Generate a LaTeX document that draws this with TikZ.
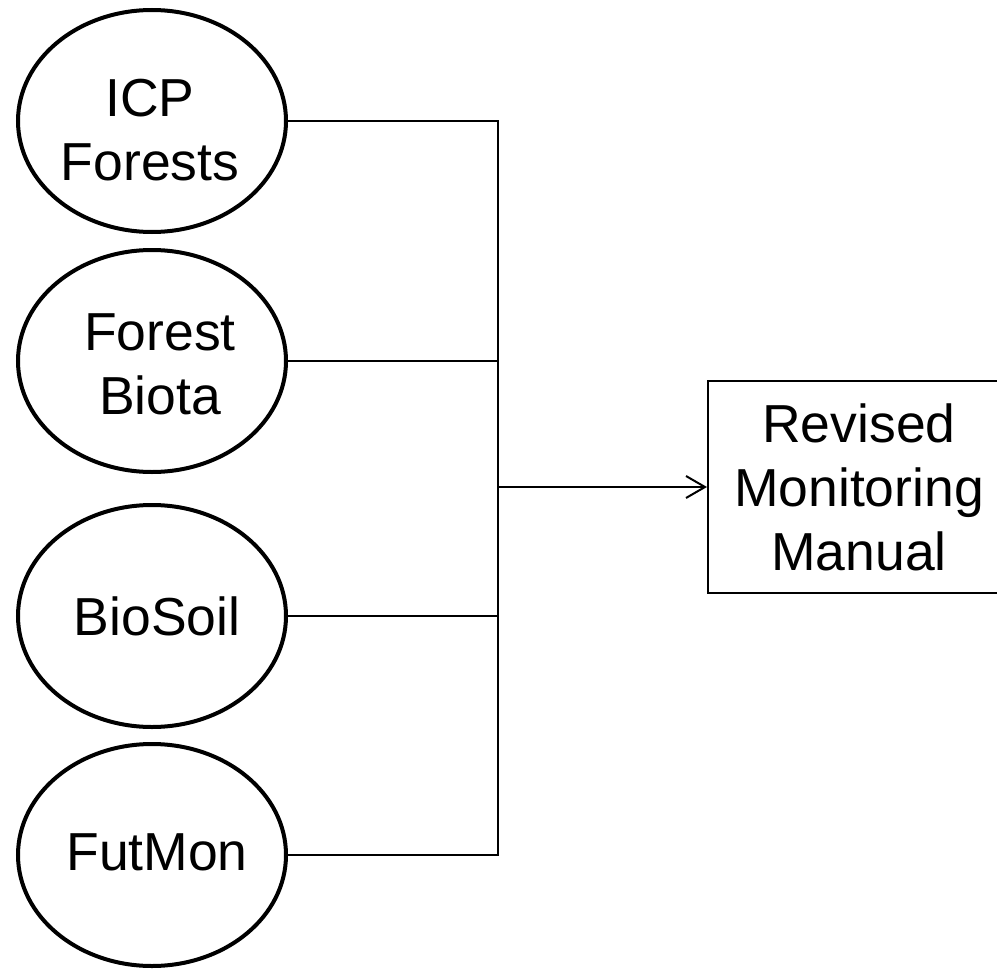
\documentclass[tikz,border=0pt]{standalone}
\usepackage{fontspec}
\setmainfont{Liberation Sans}
\usetikzlibrary{shapes.geometric,arrows.meta}
\tikzset{
  src/.style={ellipse, draw, line width=4pt, minimum width=268pt, minimum height=222pt, inner sep=0pt},
  lbl/.style={align=center, inner sep=0pt, font=\fontsize{53.5}{64}\selectfont},
  outbox/.style={rectangle, draw, line width=2pt, minimum width=302pt, minimum height=212pt, align=center, inner sep=0pt, font=\fontsize{53.5}{64}\selectfont},
  conn/.style={line width=2pt},
  arr/.style={line width=2pt, -{Straight Barb[length=19pt,width=22pt,line width=2pt]}}
}
\begin{document}
\begin{tikzpicture}[x=1pt,y=-1pt]
\useasboundingbox (0,0) rectangle (997,969);
\clip (0,0) rectangle (997,969);
\node[src] (e1) at (152,121) {};
\node[src] (e2) at (152,361) {};
\node[src] (e3) at (152,616) {};
\node[src] (e4) at (152,855) {};
\node[lbl] (t1) at (150,130) {ICP\\Forests};
\node[lbl] (t2) at (160,364) {Forest\\Biota};
\node[lbl] (t3) at (157,616) {BioSoil};
\node[lbl] (t4) at (157,852) {FutMon};
\node[outbox] (box) at (859,487) {Revised\\Monitoring\\Manual};
\coordinate (bt) at (498,121);
\coordinate (bb) at (498,855);
\coordinate (bm) at (498,487);
\draw[conn] (e1.east) -- (bt) -- (bb) -- (e4.east);
\draw[conn] (e2.east) -- (e2.east -| bt);
\draw[conn] (e3.east) -- (e3.east -| bt);
\draw[arr] (bm) -- (box.west);
\end{tikzpicture}
\end{document}
